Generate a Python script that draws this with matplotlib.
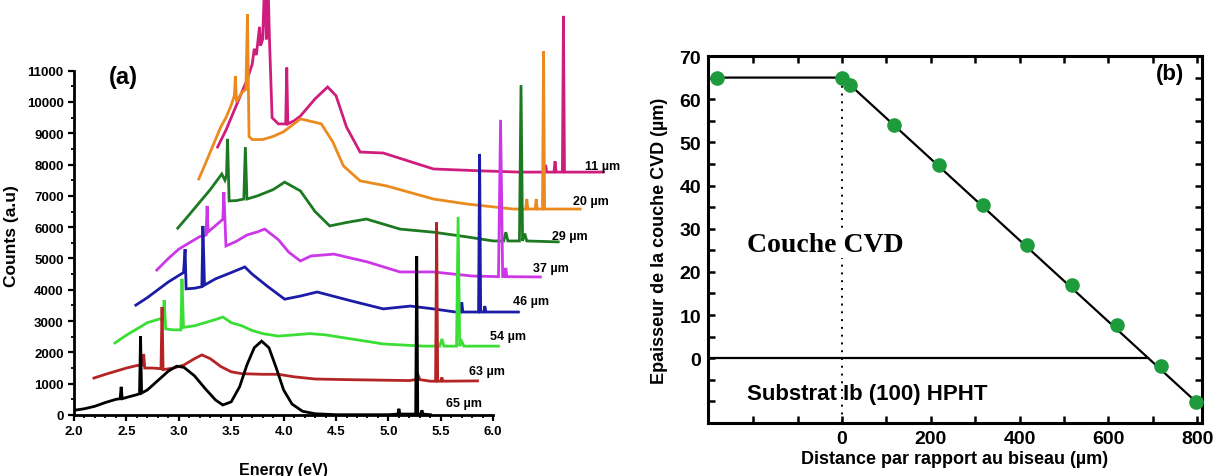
import numpy as np
import matplotlib
matplotlib.use('Agg')
import matplotlib.pyplot as plt
from matplotlib.ticker import FixedLocator, FormatStrFormatter

plt.rcParams['font.family'] = ['Liberation Sans', 'DejaVu Sans']
plt.rcParams['font.weight'] = 'bold'

# ----------------------------------------------------------------------
# (a) spectra, energy (eV) vs counts
# ----------------------------------------------------------------------
e_65 = [2.00, 2.10, 2.20, 2.30, 2.40, 2.44, 2.45, 2.46, 2.50, 2.60, 2.625, 2.635, 2.645,
        2.70, 2.80, 2.90, 2.98, 3.05, 3.15, 3.25, 3.35, 3.42, 3.50, 3.58, 3.65, 3.72,
        3.79, 3.86, 3.93, 4.00, 4.08, 4.18, 4.30, 4.50, 5.00, 5.09, 5.10, 5.11, 5.26,
        5.27, 5.28, 5.31, 5.32, 5.33, 5.40]
c_65 = [150, 200, 280, 400, 500, 520, 900, 520, 560, 650, 680, 2520, 700,
        800, 1100, 1400, 1560, 1520, 1250, 850, 480, 320, 420, 900, 1600, 2150,
        2360, 2150, 1500, 800, 350, 120, 40, 10, 10, 30, 200, 30, 30,
        5080, 30, 30, 150, 30, 10]

e_63 = [2.19, 2.30, 2.40, 2.50, 2.60, 2.655, 2.665, 2.675, 2.75, 2.83, 2.84, 2.85, 2.95,
        3.05, 3.15, 3.22, 3.30, 3.40, 3.50, 3.60, 3.80, 3.95, 4.10, 4.30, 4.60, 5.00,
        5.20, 5.26, 5.28, 5.30, 5.40, 5.45, 5.46, 5.47, 5.50, 5.51, 5.52, 5.85]
c_63 = [1180, 1300, 1400, 1500, 1580, 1600, 1950, 1500, 1500, 1480, 3450, 1450, 1500,
        1600, 1800, 1920, 1800, 1550, 1380, 1320, 1300, 1300, 1220, 1150, 1130, 1110,
        1100, 1130, 1300, 1130, 1080, 1080, 6150, 1080, 1080, 1200, 1080, 1090]

e_54 = [2.39, 2.50, 2.60, 2.70, 2.82, 2.85, 2.86, 2.875, 2.95, 3.02, 3.03, 3.045, 3.15,
        3.25, 3.35, 3.42, 3.50, 3.60, 3.70, 3.80, 3.95, 4.10, 4.25, 4.40, 4.55, 4.80,
        4.95, 5.34, 5.49, 5.51, 5.53, 5.65, 5.665, 5.68, 5.70, 5.72, 6.05]
c_54 = [2300, 2550, 2750, 2950, 3070, 3050, 3670, 2750, 2720, 2720, 4350, 2800, 2850,
        2950, 3050, 3130, 2950, 2850, 2700, 2600, 2520, 2560, 2600, 2560, 2480, 2350,
        2270, 2200, 2200, 2430, 2200, 2200, 6330, 2200, 2350, 2200, 2200]

e_46 = [2.59, 2.70, 2.80, 2.90, 3.02, 3.045, 3.06, 3.07, 3.15, 3.22, 3.23, 3.245, 3.35,
        3.50, 3.63, 3.70, 3.85, 4.01, 4.16, 4.32, 4.64, 4.95, 5.21, 5.43, 5.64, 5.69,
        5.70, 5.71, 5.80, 5.86, 5.87, 5.88, 5.91, 5.92, 5.93, 6.24]
c_46 = [3510, 3750, 4000, 4250, 4500, 4550, 5300, 4030, 4050, 4100, 6040, 4150, 4350,
        4550, 4730, 4500, 4100, 3700, 3800, 3930, 3650, 3390, 3480, 3390, 3290, 3290,
        3600, 3290, 3290, 3290, 8340, 3290, 3290, 3480, 3290, 3290]

e_37 = [2.79, 2.90, 3.00, 3.10, 3.20, 3.26, 3.27, 3.28, 3.35, 3.42, 3.43, 3.45, 3.55,
        3.65, 3.75, 3.82, 3.95, 4.05, 4.16, 4.26, 4.48, 4.80, 5.11, 5.43, 5.80, 6.05,
        6.07, 6.09, 6.11, 6.12, 6.13, 6.45]
c_37 = [4630, 5000, 5300, 5500, 5700, 5750, 6680, 5850, 6050, 6250, 7120, 5400, 5550,
        5750, 5850, 5940, 5600, 5200, 4920, 5080, 5140, 4890, 4570, 4570, 4440, 4420,
        9430, 4420, 4420, 4700, 4420, 4410]

e_29 = [2.99, 3.10, 3.20, 3.30, 3.41, 3.44, 3.455, 3.465, 3.48, 3.55, 3.62, 3.635, 3.65,
        3.75, 3.90, 4.01, 4.16, 4.30, 4.44, 4.60, 4.79, 5.11, 5.43, 5.75, 6.00, 6.10,
        6.12, 6.14, 6.25, 6.265, 6.28, 6.30, 6.32, 6.62]
c_29 = [5970, 6400, 6800, 7200, 7700, 7500, 7650, 8820, 6840, 6850, 6900, 8560, 6900,
        7000, 7200, 7440, 7160, 6500, 6040, 6150, 6260, 5940, 5840, 5690, 5560, 5560,
        5840, 5560, 5560, 10540, 5560, 5800, 5560, 5530]

e_20 = [3.19, 3.25, 3.30, 3.35, 3.40, 3.45, 3.50, 3.53, 3.54, 3.55, 3.60, 3.64, 3.655,
        3.67, 3.70, 3.80, 3.90, 4.00, 4.16, 4.30, 4.36, 4.47, 4.57, 4.73, 4.98, 5.43,
        5.75, 6.19, 6.31, 6.32, 6.33, 6.40, 6.41, 6.42, 6.47, 6.48, 6.49, 6.83]
c_20 = [7540, 8000, 8400, 8800, 9200, 9500, 9900, 10200, 10830, 10000, 10300, 10400, 12800,
        8900, 8800, 8800, 8900, 9050, 9460, 9350, 9300, 8720, 7960, 7480, 7320, 6900,
        6740, 6580, 6580, 6900, 6580, 6580, 6900, 6580, 6580, 11630, 6580, 6580]

e_11 = [3.37, 3.45, 3.50, 3.55, 3.60, 3.65, 3.70, 3.72, 3.74, 3.77, 3.78, 3.80, 3.82,
        3.835, 3.85, 3.865, 3.89, 3.95, 4.02, 4.03, 4.04, 4.10, 4.16, 4.30, 4.42, 4.50,
        4.60, 4.73, 4.95, 5.43, 5.88, 6.25, 6.49, 6.50, 6.51, 6.58, 6.59, 6.60, 6.66,
        6.67, 6.68, 7.05]
c_11 = [8560, 9100, 9500, 9900, 10300, 10700, 11200, 11700, 11500, 12400, 11800, 12000, 14000,
        12000, 14000, 12000, 9500, 9300, 9300, 11100, 9300, 9400, 9550, 10100, 10480, 10200,
        9200, 8400, 8370, 7860, 7800, 7760, 7760, 7990, 7760, 7760, 8100, 7760, 7760,
        12750, 7760, 7760]

spectra = [
    (e_11, c_11, '#cf1d7d', '11 µm', 6.88, 7950),
    (e_20, c_20, '#ec8a1e', '20 µm', 6.76, 6840),
    (e_29, c_29, '#1d7a22', '29 µm', 6.56, 5720),
    (e_37, c_37, '#cc38e8', '37 µm', 6.38, 4700),
    (e_46, c_46, '#1c1ca6', '46 µm', 6.19, 3640),
    (e_54, c_54, '#3ade35', '54 µm', 5.97, 2520),
    (e_63, c_63, '#b52424', '63 µm', 5.77, 1400),
    (e_65, c_65, '#000000', '65 µm', 5.55, 380),
]

# ----------------------------------------------------------------------
# (b) CVD layer thickness vs distance from the bevel
# ----------------------------------------------------------------------
dist = [-282, 0, 19, 117, 219, 318, 417, 518, 619, 719, 798]
thick = [65, 65, 63.3, 54, 44.8, 35.5, 26.2, 16.9, 7.7, -1.9, -10.2]
fit_x = [-282, 0, 805]
fit_y = [65, 65, -10.8]
zero_x = [-302, 689]
zero_y = [0, 0]

fig = plt.figure(figsize=(12.2, 4.77), dpi=100)

# ---------------- panel (a)
ax = fig.add_axes([74 / 1220, 1 - 416 / 477, (619 - 74) / 1220, 416 / 477])
for e, c, col, lab, lx, ly in spectra:
    ax.plot(e, c, color=col, lw=2.0, solid_joinstyle='miter')
    ax.text(lx, ly, lab, fontsize=9, fontweight='bold', va='center', ha='left')
ax.set_xlim(2.0, 7.2)
ax.set_ylim(0, 13290)
for s in ['top', 'right']:
    ax.spines[s].set_visible(False)
ax.spines['bottom'].set_bounds(2.0, 6.0)
ax.spines['left'].set_bounds(0, 11000)
for s in ['bottom', 'left']:
    ax.spines[s].set_linewidth(2.0)
ax.xaxis.set_major_locator(FixedLocator(np.arange(2.0, 6.01, 0.5)))
ax.xaxis.set_minor_locator(FixedLocator(np.arange(2.0, 6.01, 0.1)))
ax.yaxis.set_major_locator(FixedLocator(np.arange(0, 11001, 1000)))
ax.yaxis.set_minor_locator(FixedLocator(np.arange(500, 11001, 1000)))
ax.xaxis.set_major_formatter(FormatStrFormatter('%.1f'))
ax.tick_params(which='major', direction='out', length=4, width=1.6, labelsize=9.5)
ax.tick_params(which='minor', direction='out', length=2.5, width=1.3)
for t in ax.get_xticklabels() + ax.get_yticklabels():
    t.set_fontweight('bold')
ax.text(4.0, -1500, 'Energy (eV)', fontsize=11.5, fontweight='bold', ha='center', va='top')
ax.set_ylabel('Counts (a.u)', fontsize=12.5, fontweight='bold')
ax.yaxis.set_label_coords(-0.1, 0.433)
ax.text(2.47, 10800, '(a)', fontsize=17, fontweight='bold', ha='center', va='center')

# ---------------- panel (b)
bx = fig.add_axes([708 / 1220, 1 - 424 / 477, (1202 - 708) / 1220, (424 - 57) / 477])
bx.plot(fit_x, fit_y, color='black', lw=1.6, zorder=2)
bx.plot(zero_x, zero_y, color='black', lw=1.6, zorder=2)
bx.plot([0, 0], [65, -15], color='black', lw=1.4, ls=(0, (1, 3)), zorder=1)
bx.plot(dist, thick, 'o', color='#1e9b3c', ms=9.5, zorder=3, clip_on=False)
bx.set_xlim(-302, 811)
bx.set_ylim(-15, 70)
for s in bx.spines.values():
    s.set_linewidth(2.2)
bx.xaxis.set_major_locator(FixedLocator([0, 200, 400, 600, 800]))
bx.xaxis.set_minor_locator(FixedLocator([-200, -100, 100, 300, 500, 700]))
bx.yaxis.set_major_locator(FixedLocator(np.arange(0, 71, 10)))
bx.yaxis.set_minor_locator(FixedLocator([-10, -5, 5, 15, 25, 35, 45, 55, 65]))
bx.tick_params(which='both', direction='in', top=True, right=True, width=1.8, length=5,
               labelsize=14, pad=5)
for t in bx.get_xticklabels() + bx.get_yticklabels():
    t.set_fontweight('bold')
bx.set_xlabel('Distance par rapport au biseau (µm)', fontsize=13, fontweight='bold', labelpad=2)
bx.set_ylabel('Epaisseur de la couche CVD (µm)', fontsize=13, fontweight='bold', labelpad=8)
bx.text(-214, 26.4, 'Couche CVD', fontsize=20, fontweight='bold', ha='left', va='center',
        family='Liberation Serif', zorder=4,
        bbox=dict(facecolor='white', edgecolor='none', pad=1))
bx.text(-214, -8.1, 'Substrat Ib (100) HPHT', fontsize=16, fontweight='bold', ha='left',
        va='center', zorder=4)
bx.text(739, 65.9, '(b)', fontsize=16, fontweight='bold', ha='center', va='center')

fig.savefig('out.png', dpi=100)
